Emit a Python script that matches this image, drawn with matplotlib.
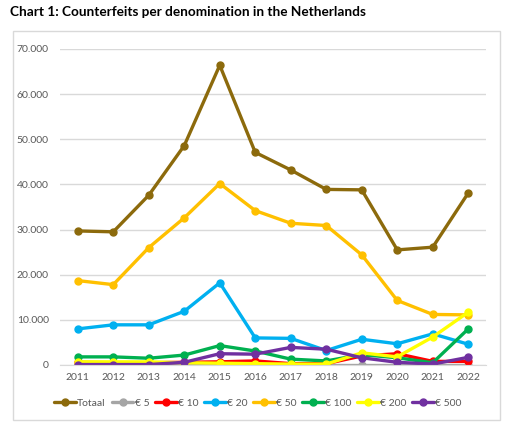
import matplotlib
matplotlib.use("Agg")
import matplotlib.pyplot as plt
from matplotlib.patches import Rectangle
from matplotlib.ticker import FuncFormatter

years = ["2011", "2012", "2013", "2014", "2015", "2016", "2017", "2018", "2019", "2020", "2021", "2022"]
totaal = [29700, 29500, 37600, 48600, 66400, 47100, 43200, 38900, 38800, 25500, 26100, 38100]
eur5 = [100, 100, 100, 100, 100, 100, 100, 100, 100, 100, 100, 100]
eur10 = [600, 500, 500, 600, 700, 900, 300, 300, 2000, 2500, 800, 800]
eur20 = [8000, 8900, 8900, 11900, 18200, 6000, 5900, 3200, 5700, 4700, 6900, 4600]
eur50 = [18700, 17800, 26000, 32600, 40200, 34200, 31400, 30900, 24400, 14300, 11200, 11100]
eur100 = [1800, 1800, 1500, 2200, 4300, 3100, 1300, 900, 2300, 1600, 500, 8000]
eur200 = [700, 700, 700, 500, 400, 300, 200, 200, 2700, 1800, 6200, 11700]
eur500 = [100, 100, 100, 600, 2500, 2400, 3900, 3500, 1600, 600, 200, 1700]

series = [
    ("Totaal", totaal, "#8C6A0C"),
    ("€ 5", eur5, "#A5A5A5"),
    ("€ 10", eur10, "#FF0000"),
    ("€ 20", eur20, "#00B0F0"),
    ("€ 50", eur50, "#FFC000"),
    ("€ 100", eur100, "#00B050"),
    ("€ 200", eur200, "#FFFF00"),
    ("€ 500", eur500, "#7030A0"),
]

plt.rcParams['font.family'] = ['Lato', 'DejaVu Sans']

W, H = 517, 437
fig = plt.figure(figsize=(W / 100, H / 100), dpi=100)

# chart box border
fig.patches.append(Rectangle((13 / W, 1 - 420 / H), (500 - 13) / W, (420 - 31) / H,
                             transform=fig.transFigure, fill=False, edgecolor="#D9D9D9", linewidth=1))

fig.text(10 / W, 1 - 12 / H, "Chart 1: Counterfeits per denomination in the Netherlands",
         fontsize=9.8, fontweight="bold", va="center", ha="left", color="#000000")

ax = fig.add_axes([60 / W, 1 - 365 / H, (486 - 60) / W, (365 - 49) / H])
x = list(range(len(years)))
for name, vals, col in series:
    ax.plot(x, vals, color=col, linewidth=2.4, marker="o", markersize=5, label=name,
            solid_capstyle="round")

ax.set_xlim(-0.5, len(years) - 0.5)
ax.set_ylim(0, 70000)
ax.set_yticks(range(0, 70001, 10000))
ax.yaxis.set_major_formatter(FuncFormatter(lambda v, p: f"{int(v):,}".replace(",", ".")))
ax.set_xticks(x)
ax.set_xticklabels(years)
ax.tick_params(axis="both", length=0, labelsize=7.5, colors="#595959")
ax.tick_params(axis="x", pad=6)
ax.tick_params(axis="y", pad=8)
ax.grid(axis="y", color="#D9D9D9", linewidth=1)
ax.set_axisbelow(True)
for s in ["top", "right", "left"]:
    ax.spines[s].set_visible(False)
ax.spines["bottom"].set_color("#D9D9D9")

leg = fig.legend(loc="center", bbox_to_anchor=(258 / W, 1 - 403 / H), ncol=8, frameon=False,
                 fontsize=7.5, handlelength=2.1, handletextpad=0.1, columnspacing=0.55,
                 labelcolor="#595959")

fig.savefig("out.png", dpi=100)
